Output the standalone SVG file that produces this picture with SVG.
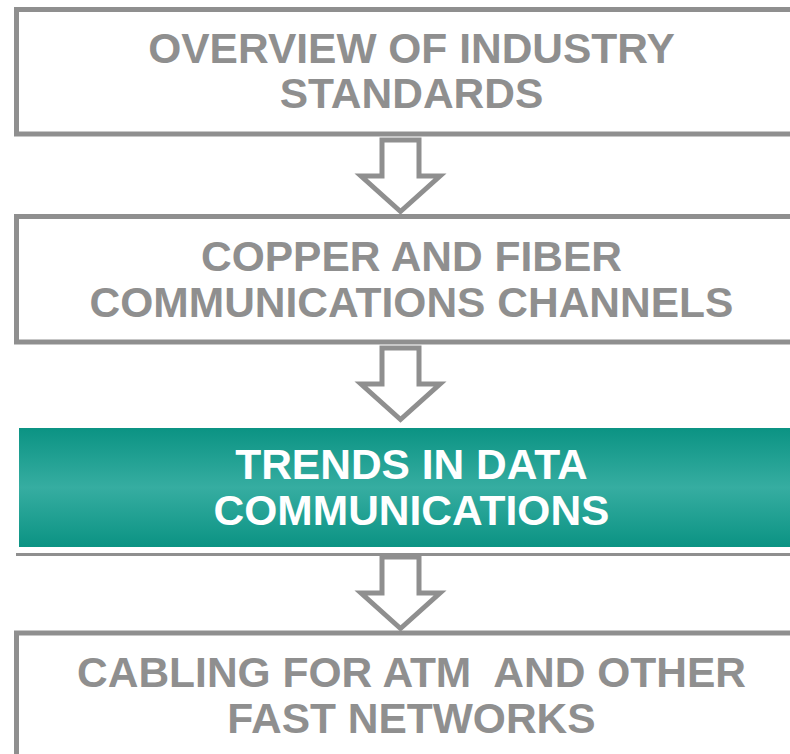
<svg xmlns="http://www.w3.org/2000/svg" width="790" height="754" viewBox="0 0 790 754">
  <defs>
    <linearGradient id="teal" x1="0" y1="0" x2="0" y2="1">
      <stop offset="0" stop-color="#0b9383"/>
      <stop offset="0.5" stop-color="#36ada1"/>
      <stop offset="1" stop-color="#0b9383"/>
    </linearGradient>
    <path id="arrow" d="M382,140 L419,140 L419,176 L440,176 L400.5,211.5 L361,176 L382,176 Z"/>
  </defs>
  <style>
    .box { fill: #ffffff; stroke: #8f8f8f; stroke-width: 5; }
    .hl { stroke: #dcdcdc; stroke-width: 1; }
    .lbl { font-family: "Liberation Sans", Arial, sans-serif; font-weight: bold; font-size: 42.5px; text-anchor: middle; fill: #8f8f8f; white-space: pre; }
    .lbl-on { fill: #ffffff; }
    .arr { fill: #ffffff; stroke: #8f8f8f; stroke-width: 5; stroke-miterlimit: 10; }
  </style>
  <rect width="790" height="754" fill="#ffffff"/>

  <g id="node-overview">
    <rect class="box" x="16.5" y="9.5" width="800" height="124.5"/>
    <text class="lbl" x="411.5" y="63">OVERVIEW OF INDUSTRY</text>
    <text class="lbl" x="411.5" y="108">STANDARDS</text>
  </g>

  <g id="node-copper">
    <rect class="box" x="16.5" y="216.5" width="800" height="125.5"/>
    <text class="lbl" x="411.5" y="271">COPPER AND FIBER</text>
    <text class="lbl" x="411.5" y="317">COMMUNICATIONS CHANNELS</text>
  </g>

  <g id="node-trends">
    <rect x="19" y="428" width="790" height="119" fill="url(#teal)"/>
    <text class="lbl lbl-on" x="411.5" y="479">TRENDS IN DATA</text>
    <text class="lbl lbl-on" x="411.5" y="525">COMMUNICATIONS</text>
  </g>

  <g id="node-cabling">
    <rect class="box" x="16.5" y="633" width="800" height="140"/>
    <text class="lbl" x="411.5" y="687">CABLING FOR ATM  AND OTHER</text>
    <text class="lbl" x="411.5" y="733">FAST NETWORKS</text>
  </g>

  <g id="connectors">
    <use href="#arrow" class="arr"/>
    <use href="#arrow" class="arr" transform="translate(0,208)"/>
    <line x1="16" y1="554.5" x2="790" y2="554.5" stroke="#8f8f8f" stroke-width="3"/>
    <use href="#arrow" class="arr" transform="translate(0,417)"/>
  </g>
</svg>
